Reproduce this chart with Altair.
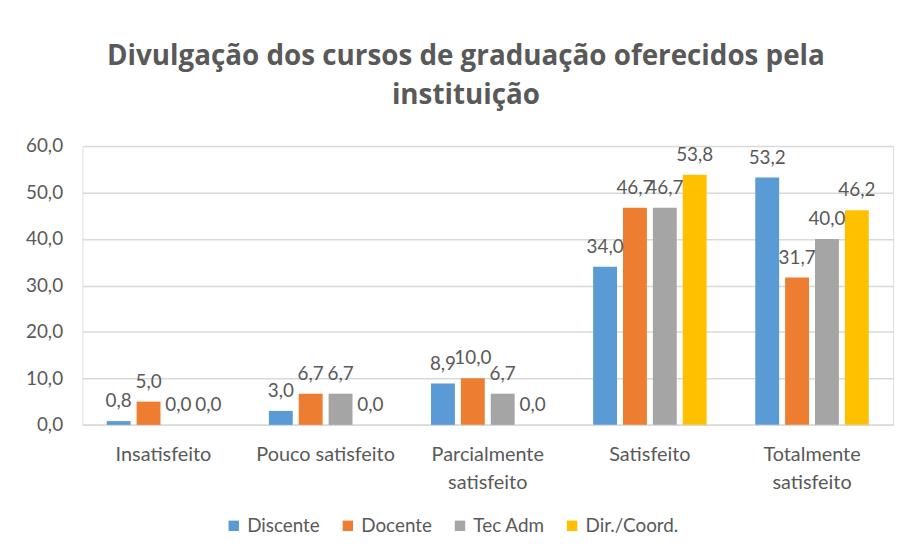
import altair as alt
import pandas as pd

categories = ["Insatisfeito", "Pouco satisfeito", "Parcialmente satisfeito", "Satisfeito", "Totalmente satisfeito"]
series = ["Discente", "Docente", "Tec Adm", "Dir./Coord."]
discente = [0.8, 3.0, 8.9, 34.0, 53.2]
docente = [5.0, 6.7, 10.0, 46.7, 31.7]
tec_adm = [0.0, 6.7, 6.7, 46.7, 40.0]
dir_coord = [0.0, 0.0, 0.0, 53.8, 46.2]
colors = ["#5B9BD5", "#ED7D31", "#A5A5A5", "#FFC000"]

rows = []
for s, vals in zip(series, [discente, docente, tec_adm, dir_coord]):
    for c, v in zip(categories, vals):
        rows.append({"cat": c, "serie": s, "valor": v, "rotulo": f"{v:.1f}".replace(".", ",")})
df = pd.DataFrame(rows)

FONT = "Lato"
GREY = "#595959"

x = alt.X("cat:N", sort=categories, title=None,
          scale=alt.Scale(paddingInner=0.3, paddingOuter=0.15),
          axis=alt.Axis(labelAngle=0, labelFont=FONT, labelFontSize=20, labelColor=GREY,
                        labelPadding=20, labelLineHeight=28, ticks=False,
                        domainColor="#D9D9D9", domainWidth=1.5,
                        labelExpr="datum.value == 'Parcialmente satisfeito' ? ['Parcialmente', 'satisfeito'] : datum.value == 'Totalmente satisfeito' ? ['Totalmente', 'satisfeito'] : datum.value"))
xo = alt.XOffset("serie:N", sort=series, scale=alt.Scale(paddingInner=0.2, paddingOuter=0))
y = alt.Y("valor:Q", title=None,
          scale=alt.Scale(domain=[0, 60]),
          axis=alt.Axis(values=[0, 10, 20, 30, 40, 50, 60], domain=False, ticks=False,
                        labelFont=FONT, labelFontSize=19, labelColor=GREY, labelPadding=20,
                        gridColor="#D9D9D9", gridWidth=1.5,
                        labelExpr="replace(format(datum.value, '.1f'), '.', ',')"))

color = alt.Color("serie:N", sort=series, scale=alt.Scale(domain=series, range=colors),
                  legend=alt.Legend(title=None, orient="none", direction="horizontal",
                                    legendX=143, legendY=373,
                                    symbolType="square", symbolSize=110, symbolStrokeWidth=0,
                                    labelFont=FONT, labelFontSize=19, labelColor=GREY,
                                    columnPadding=18, labelOffset=4))

base = alt.Chart(df)
bars = base.mark_bar().encode(x=x, xOffset=xo, y=y, color=color)
labels = base.mark_text(font=FONT, fontSize=19, color=GREY, baseline="alphabetic", dy=-14).encode(
    x=x, xOffset=xo, y=y, text="rotulo:N")

chart = (bars + labels).properties(
    width=817, height=281,
    title=alt.TitleParams(["Divulgação dos cursos de graduação oferecidos pela", "instituição"],
                          font="Open Sans", fontSize=28, fontWeight="bold", color=GREY,
                          anchor="middle", dx=-22, offset=27, lineHeight=40),
    autosize=alt.AutoSizeParams(type="none"),
    padding={"left": 75, "top": 137, "right": 10, "bottom": 119},
).configure_view(strokeWidth=0).configure(background="white")

chart.save("out.html", embed_options={"renderer": "svg", "actions": False})
